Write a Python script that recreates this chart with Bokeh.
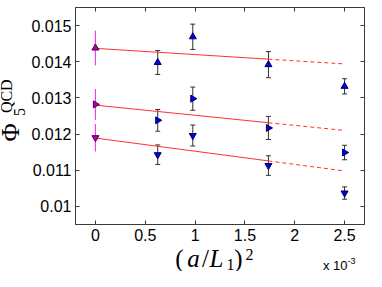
import numpy as np
from bokeh.plotting import figure
from bokeh.layouts import row, column
from bokeh.models import (Range1d, FixedTicker, LinearAxis, Whisker, ColumnDataSource, TeeHead)
from bokeh.core.properties import value
from bokeh.embed import file_html
from bokeh.resources import INLINE

# ---------------- data ----------------
# (a/L1)^2 in units of 1e-3 ; index 0 = continuum limit
a_L_sq = [0.0, 0.625, 0.977, 1.736, 2.5]
phi_up = [0.01438, 0.01398, 0.01469, 0.01392, 0.01332]
err_up = [0.00048, 0.00033, 0.00035, 0.00036, 0.00021]
phi_mid = [0.01282, 0.01238, 0.01298, 0.01217, 0.01149]
err_mid = [0.00043, 0.00030, 0.00032, 0.00032, 0.00020]
phi_low = [0.01190, 0.01143, 0.01196, 0.01113, 0.01037]
err_low = [0.00038, 0.00027, 0.00029, 0.00027, 0.00017]
fit_intercept = [0.01437, 0.01280, 0.01189]
fit_slope = [-0.000172, -0.000280, -0.000364]
fit_solid_end = 1.736
fit_end = 2.5

x_ticks = [0, 0.5, 1, 1.5, 2, 2.5]
x_tick_labels = ["0", "0.5", "1", "1.5", "2", "2.5"]
y_ticks = [0.010, 0.011, 0.012, 0.013, 0.014, 0.015]
y_tick_labels = ["0.01", "0.011", "0.012", "0.013", "0.014", "0.015"]

# ---------------- layout ----------------
X0, X1 = -0.2, 2.7
Y0, Y1 = 0.0095, 0.0155
LW = 26            # width of the y-title strip
MW, MH = 340, 247  # main figure
XH = 24            # height of the x-title strip
TOTAL_W = LW + MW  # 366

p = figure(width=MW, height=MH, x_range=Range1d(X0, X1), y_range=Range1d(Y0, Y1),
           output_backend="svg", toolbar_location=None, title=None,
           min_border_left=49, min_border_right=2, min_border_top=7, min_border_bottom=23)
p.grid.visible = False
p.background_fill_color = "white"
p.border_fill_color = "white"
AX = "#3a3a3a"
p.outline_line_color = AX

bottom = p.below[0]
left = p.left[0]
bottom.ticker = FixedTicker(ticks=x_ticks)
left.ticker = FixedTicker(ticks=y_ticks)
bottom.major_label_overrides = dict(zip(x_ticks, x_tick_labels))
left.major_label_overrides = dict(zip(y_ticks, y_tick_labels))
bottom.major_label_standoff = 4
left.major_label_standoff = 4
for ax in [bottom, left]:
    ax.major_label_text_font_size = "16px"
    ax.major_label_text_font = "Liberation Sans"
    ax.major_label_text_color = "black"

top = LinearAxis(ticker=FixedTicker(ticks=x_ticks), major_label_text_font_size="1px",
                 major_label_standoff=0,
                 major_label_overrides={t: "" for t in x_ticks})
right = LinearAxis(ticker=FixedTicker(ticks=y_ticks), major_label_text_font_size="1px",
                   major_label_standoff=0,
                   major_label_overrides={t: "" for t in y_ticks})
p.add_layout(top, "above")
p.add_layout(right, "right")

for ax in [bottom, left, top, right]:
    ax.major_tick_in = 4
    ax.major_tick_out = 0
    ax.minor_tick_line_color = None
    ax.axis_line_color = AX
    ax.major_tick_line_color = AX

# ---------------- fit lines ----------------
for b, m in zip(fit_intercept, fit_slope):
    xs = [0.0, fit_solid_end]
    p.line(xs, [b + m * x for x in xs], line_color="#ff3030", line_width=1)
    xd = [fit_solid_end, fit_end]
    p.line(xd, [b + m * x for x in xd], line_color="#ff3030", line_width=1,
           line_dash="4 3")

# ---------------- error bars & markers ----------------
series = [(phi_up, err_up, "triangle", 0.0),
          (phi_mid, err_mid, "triangle", -np.pi / 2),
          (phi_low, err_low, "inverted_triangle", 0.0)]

for vals, errs, mk, ang in series:
    src = ColumnDataSource(dict(x=a_L_sq[1:],
                                upper=[v + e for v, e in zip(vals[1:], errs[1:])],
                                lower=[v - e for v, e in zip(vals[1:], errs[1:])]))
    p.add_layout(Whisker(source=src, base="x", upper="upper", lower="lower",
                         line_color="#303030", line_width=1,
                         upper_head=TeeHead(size=5, line_color="#303030", line_width=1),
                         lower_head=TeeHead(size=5, line_color="#303030", line_width=1)))
    src0 = ColumnDataSource(dict(x=a_L_sq[:1], upper=[vals[0] + errs[0]],
                                 lower=[vals[0] - errs[0]]))
    p.add_layout(Whisker(source=src0, base="x", upper="upper", lower="lower",
                         line_color="#f040f0", line_width=1.2,
                         upper_head=None, lower_head=None))
    p.scatter(a_L_sq[1:], vals[1:], marker=mk, size=7, angle=ang,
              fill_color="#0000e6", line_color="#000060", line_width=1)
    p.scatter(a_L_sq[:1], vals[:1], marker=mk, size=7, angle=ang,
              fill_color="#b000b0", line_color="#500050", line_width=1)

# ---------------- title strips ----------------
SERIF = "Liberation Serif"
SANS = "Liberation Sans"

def strip(w, h):
    f = figure(width=w, height=h, x_range=Range1d(0, w), y_range=Range1d(0, h),
               output_backend="svg", toolbar_location=None, title=None,
               x_axis_location=None, y_axis_location=None,
               min_border=0, min_border_left=0, min_border_right=0,
               min_border_top=0, min_border_bottom=0)
    f.grid.visible = False
    f.outline_line_color = None
    f.background_fill_color = "white"
    f.border_fill_color = "white"
    return f

def txt(f, x, y, s, size, font=SERIF, style="normal", align="center", angle=0.0):
    f.text(x=[x], y=[y], text=[s], text_font=value(font), text_font_size=value(size),
           text_font_style=style, text_align=align, text_baseline="middle",
           angle=angle, text_color="black")

# y title: Phi_5^QCD, rotated (y measured from the strip's bottom)
ly = strip(LW, MH)
txt(ly, 10, 105, "Φ", "25px", angle=np.pi / 2)
txt(ly, 19, 128, "5", "16px", angle=np.pi / 2)
txt(ly, 6, 146, "QCD", "16px", angle=np.pi / 2)

# x title: (a/L_1)^2 and the multiplier (y measured from the strip's bottom)
lx = strip(TOTAL_W, XH)
txt(lx, 179, 13, "(", "25px")
txt(lx, 193, 13, "a", "25px", style="italic")
txt(lx, 205, 13, "/", "25px")
txt(lx, 216, 13, "L", "25px", style="italic")
txt(lx, 230, 7, "1", "16px")
txt(lx, 238, 13, ")", "25px")
txt(lx, 249, 17, "2", "16px")
txt(lx, 347, 6, "x 10", "13px", font=SANS, align="right")
txt(lx, 347, 11, "-3", "9px", font=SANS, align="left")

layout = column(row(ly, p, spacing=0), lx, spacing=0)
open("out.html", "w").write(file_html(layout, INLINE))
